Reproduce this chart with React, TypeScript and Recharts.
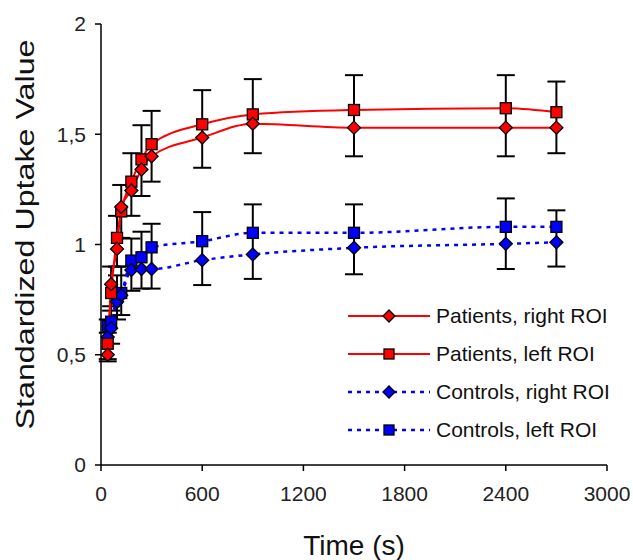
import { LineChart, Line, XAxis, YAxis, ErrorBar } from "recharts";

const times = [40, 60, 95, 120, 180, 240, 300, 600, 900, 1500, 2400, 2700];
const patientsRight = [0.5, 0.82, 0.98, 1.17, 1.245, 1.34, 1.4, 1.485, 1.548, 1.53, 1.53, 1.53];
const patientsLeft = [0.55, 0.78, 1.03, 1.15, 1.285, 1.386, 1.455, 1.545, 1.59, 1.61, 1.618, 1.6];
const controlsRight = [0.58, 0.62, 0.74, 0.77, 0.884, 0.889, 0.889, 0.929, 0.955, 0.985, 1.003, 1.01];
const controlsLeft = [0.63, 0.65, 0.76, 0.78, 0.927, 0.942, 0.987, 1.015, 1.053, 1.053, 1.08, 1.08];

// error bar ends (absolute values)
const patientsLow = [0.47, 0.7, 0.9, 1.03, 1.13, 1.22, 1.285, 1.348, 1.414, 1.4, 1.4, 1.414];
const patientsHigh = [0.6, 0.9, 1.13, 1.27, 1.414, 1.541, 1.606, 1.7, 1.75, 1.768, 1.768, 1.739];
const controlsLow = [0.48, 0.55, 0.66, 0.68, 0.79, 0.8, 0.8, 0.816, 0.844, 0.865, 0.889, 0.9];
const controlsHigh = [0.66, 0.72, 0.86, 0.9, 1.027, 1.058, 1.094, 1.147, 1.182, 1.182, 1.209, 1.155];

const xTicks = [0, 600, 1200, 1800, 2400, 3000];
const yTicks = [0, 0.5, 1, 1.5, 2];

const data = times.map((t, i) => ({
  t,
  pr: patientsRight[i],
  pl: patientsLeft[i],
  cr: controlsRight[i],
  cl: controlsLeft[i],
  pErr: [patientsLeft[i] - patientsLow[i], patientsHigh[i] - patientsLeft[i]],
  cErr: [controlsLeft[i] - controlsLow[i], controlsHigh[i] - controlsLeft[i]],
}));

const FONT = '"Liberation Sans", Arial, sans-serif';

const diamond = (fill: string) => (props: any) => {
  const { cx, cy, index } = props;
  if (cx == null || cy == null) return <g key={index} />;
  const r = 6.5;
  return (
    <path
      key={index}
      d={`M${cx},${cy - r}L${cx + r},${cy}L${cx},${cy + r}L${cx - r},${cy}Z`}
      fill={fill}
      stroke="#000"
      strokeWidth={1.3}
    />
  );
};

const square = (fill: string) => (props: any) => {
  const { cx, cy, index } = props;
  if (cx == null || cy == null) return <g key={index} />;
  const s = 5.5;
  return (
    <rect key={index} x={cx - s} y={cy - s} width={s * 2} height={s * 2}
      fill={fill} stroke="#000" strokeWidth={1.3} />
  );
};

const legendItems = [
  { label: "Patients, right ROI", color: "#ff0000", dashed: false, shape: "diamond" },
  { label: "Patients, left ROI", color: "#ff0000", dashed: false, shape: "square" },
  { label: "Controls, right ROI", color: "#0000ff", dashed: true, shape: "diamond" },
  { label: "Controls, left ROI", color: "#0000ff", dashed: true, shape: "square" },
];

// legend sits inside the plot, lower right, like the original
const ChartLegend = () => (
  <div style={{ position: "absolute", left: 346, top: 297, fontFamily: FONT, fontSize: 21, color: "#111" }}>
    {legendItems.map(item => (
      <div key={item.label} style={{ display: "flex", alignItems: "center", height: 38 }}>
        <svg width={88} height={20} style={{ marginRight: 2 }}>
          <line x1={2} y1={10} x2={84} y2={10} stroke={item.color} strokeWidth={item.dashed ? 2.5 : 2}
            strokeDasharray={item.dashed ? "4 5" : undefined} />
          {item.shape === "diamond"
            ? <path d="M43,4L49,10L43,16L37,10Z" fill={item.color} stroke="#000" strokeWidth={1.3} />
            : <rect x={38} y={5} width={10} height={10} fill={item.color} stroke="#000" strokeWidth={1.3} />}
        </svg>
        <span>{item.label}</span>
      </div>
    ))}
  </div>
);

// the original y title is drawn tall and narrow, so stretch it to its length
const YTitle = ({ viewBox }: any) => {
  const x = viewBox.x + 25;
  const y = viewBox.y + viewBox.height / 2 - 10;
  return (
    <text x={x} y={y} transform={`rotate(-90 ${x} ${y})`} textAnchor="middle" dominantBaseline="central"
      fill="#111" fontSize={25} fontFamily={FONT} textLength={390} lengthAdjust="spacingAndGlyphs">
      Standardized Uptake Value
    </text>
  );
};

const fmt = (v: number) => String(v).replace(".", ",");

export default function App() {
  return (
    <div style={{ position: "absolute", left: 0, top: 0, width: 633, height: 560, background: "#fff" }}>
      <LineChart width={633} height={560} data={data}
        margin={{ top: 24, right: 26, bottom: 0, left: 0 }}>
        <XAxis
          dataKey="t" type="number" domain={[0, 3000]} ticks={xTicks}
          axisLine={{ stroke: "#000", strokeWidth: 1.5 }}
          tickLine={{ stroke: "#000", strokeWidth: 1.5 }}
          tickSize={6} tickMargin={15} height={95}
          tick={{ fill: "#222", fontSize: 21, fontFamily: FONT }}
          label={{ value: "Time (s)", position: "insideBottom", offset: 5,
            style: { fill: "#111", fontSize: 28, fontFamily: FONT } }}
        />
        <YAxis
          type="number" domain={[0, 2]} ticks={yTicks} width={101}
          tickFormatter={fmt}
          axisLine={{ stroke: "#000", strokeWidth: 1.5 }}
          tickLine={{ stroke: "#000", strokeWidth: 1.5 }}
          tickSize={6} tickMargin={9}
          tick={{ fill: "#222", fontSize: 21, fontFamily: FONT }}
          label={{ content: YTitle }}
        />
        <Line dataKey="cl" type="monotone" stroke="#0000ff" strokeWidth={2.5} strokeDasharray="4 5"
          dot={square("#0000ff")} isAnimationActive={false}>
          <ErrorBar dataKey="cErr" width={9} stroke="#000" strokeWidth={2} direction="y" />
        </Line>
        <Line dataKey="cr" type="monotone" stroke="#0000ff" strokeWidth={2.5} strokeDasharray="4 5"
          dot={diamond("#0000ff")} isAnimationActive={false} />
        <Line dataKey="pl" type="monotone" stroke="#ff0000" strokeWidth={2}
          dot={square("#ff0000")} isAnimationActive={false}>
          <ErrorBar dataKey="pErr" width={9} stroke="#000" strokeWidth={2} direction="y" />
        </Line>
        <Line dataKey="pr" type="monotone" stroke="#ff0000" strokeWidth={2}
          dot={diamond("#ff0000")} isAnimationActive={false} />
      </LineChart>
      <ChartLegend />
    </div>
  );
}
